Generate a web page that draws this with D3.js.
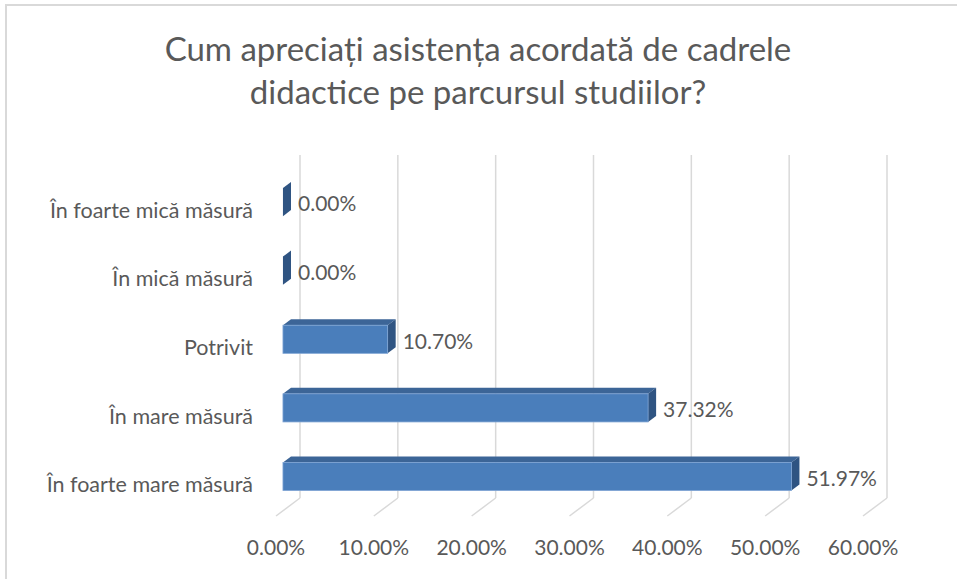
<!DOCTYPE html>
<html>
<head>
<meta charset="utf-8">
<script src="https://cdn.jsdelivr.net/npm/d3@7"></script>
<style>
    body { margin: 0; background: #fff; }
    text { font-family: Lato, "Liberation Sans", sans-serif; fill: #595959; }
</style>
</head>
<body>
<div id="chart"></div>
<script>
// dados do gráfico
const titleLines = ["Cum apreciați asistența acordată de cadrele", "didactice pe parcursul studiilor?"];
const categories = ["În foarte mică măsură", "În mică măsură", "Potrivit", "În mare măsură", "În foarte mare măsură"];
const values = [0.0, 0.0, 0.1070, 0.3732, 0.5197];
const ticks = [0, 0.1, 0.2, 0.3, 0.4, 0.5, 0.6];

const W = 957, H = 579;

const svg = d3.select("#chart")
    .append("svg")
    .attr("width", W)
    .attr("height", H);

// moldura
svg.append("path")
    .attr("d", `M6,${H} L6,5 L${W},5`)
    .attr("fill", "none")
    .attr("stroke", "#d9d9d9")
    .attr("stroke-width", 2);

// título
svg.append("text")
    .attr("x", 478)
    .attr("text-anchor", "middle")
    .style("font-size", "33px")
    .selectAll("tspan")
    .data(titleLines)
    .enter().append("tspan")
    .attr("x", 478)
    .attr("y", (d, i) => 61 + i * 43)
    .text(d => d);

// escalas (plano da parede de fundo)
const x = d3.scaleLinear().domain([0, 0.6]).range([300, 887]);
const y = d3.scaleBand()
    .domain(categories)
    .range([155, 498])
    .paddingInner(0.59)
    .paddingOuter(0.295);

// profundidade 3D
const depth = { dx: -24, dy: 18 };
const barFront = 0.71, barBack = 0.375;

// grade vertical + chão
const grid = svg.append("g");
ticks.forEach(t => {
    grid.append("line")
        .attr("x1", x(t)).attr("x2", x(t))
        .attr("y1", 155).attr("y2", 498)
        .attr("stroke", "#d9d9d9").attr("stroke-width", 1.5);
    grid.append("line")
        .attr("x1", x(t)).attr("y1", 498)
        .attr("x2", x(t) + depth.dx).attr("y2", 498 + depth.dy)
        .attr("stroke", "#d9d9d9").attr("stroke-width", 1.5);
});

// barras 3D
const bars = svg.append("g");
const fx = barFront * depth.dx, fy = barFront * depth.dy;
const bx = barBack * depth.dx, by = barBack * depth.dy;

categories.forEach((c, i) => {
    const x0 = x(0) + fx, x1 = x(values[i]) + fx;
    const y0 = y(c) + fy, y1 = y(c) + y.bandwidth() + fy;
    const ox = bx - fx, oy = by - fy;

    // topo
    bars.append("path")
        .attr("d", `M${x0},${y0} L${x0 + ox},${y0 + oy} L${x1 + ox},${y0 + oy} L${x1},${y0} Z`)
        .attr("fill", "#3c6597");
    // lateral
    bars.append("path")
        .attr("d", `M${x1},${y0} L${x1 + ox},${y0 + oy} L${x1 + ox},${y1 + oy} L${x1},${y1} Z`)
        .attr("fill", "#2f5482");
    // frente
    if (values[i] > 0) {
        bars.append("rect")
            .attr("x", x0).attr("y", y0)
            .attr("width", x1 - x0).attr("height", y1 - y0)
            .attr("fill", "#4a7ebb")
            .attr("stroke", "#7ea4d4").attr("stroke-width", 0.8);
    }

    // rótulo de dados
    svg.append("text")
        .attr("x", x1 + ox + 7)
        .attr("y", (y0 + y1) / 2 + 2)
        .attr("dy", "0.35em")
        .style("font-size", "21px")
        .text(d3.format(".2%")(values[i]));

    // rótulo da categoria
    svg.append("text")
        .attr("x", x(0) + depth.dx - 23)
        .attr("y", y(c) + y.bandwidth() / 2 + depth.dy + 3)
        .attr("dy", "0.35em")
        .attr("text-anchor", "end")
        .style("font-size", "21.5px")
        .text(c);
});

// eixo de valores
ticks.forEach(t => {
    svg.append("text")
        .attr("x", x(t) + depth.dx)
        .attr("y", 548)
        .attr("dy", "0.35em")
        .attr("text-anchor", "middle")
        .style("font-size", "21px")
        .text(d3.format(".2%")(t));
});
</script>
</body>
</html>
